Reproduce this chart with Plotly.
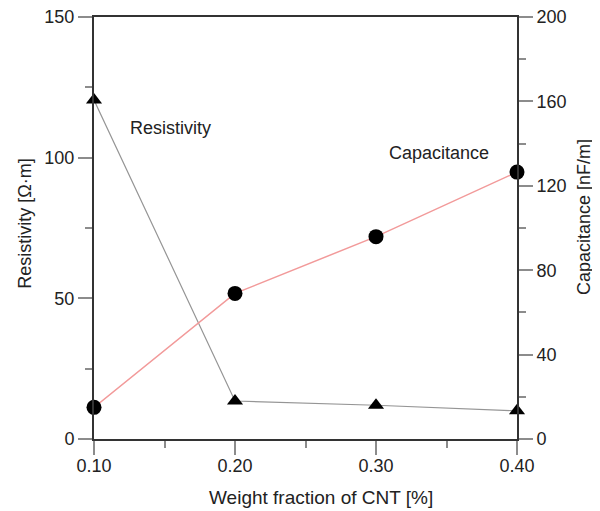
import plotly.graph_objects as go

weight_fraction = [0.10, 0.20, 0.30, 0.40]
resistivity = [120.5, 13.5, 12.0, 10.0]
capacitance = [15.0, 69.0, 95.9, 126.5]

x_ticks = [0.10, 0.20, 0.30, 0.40]
x_tick_labels = ["0.10", "0.20", "0.30", "0.40"]
left_ticks = [0, 50, 100, 150]
right_ticks = [0, 40, 80, 120, 160, 200]

FONT = "Liberation Sans, Arial, Helvetica, sans-serif"
AXIS_COLOR = "#333333"
TICK_COLOR = "#8c8c8c"
FS = 18

fig = go.Figure()
fig.add_trace(go.Scatter(
    x=weight_fraction, y=resistivity, mode="lines+markers",
    line=dict(color="#959595", width=1.2),
    marker=dict(symbol="triangle-up", size=14, color="black"),
    cliponaxis=False, yaxis="y", showlegend=False))
fig.add_trace(go.Scatter(
    x=weight_fraction, y=capacitance, mode="lines+markers",
    line=dict(color="#f29a9a", width=1.5),
    marker=dict(symbol="circle", size=15, color="black"),
    cliponaxis=False, yaxis="y2", showlegend=False))

common = dict(showgrid=False, zeroline=False, showline=True, linecolor=AXIS_COLOR,
              linewidth=2, ticks="outside", ticklen=14, tickwidth=2, automargin=False,
              ticklabeloverflow="allow",
              tickcolor=TICK_COLOR, tickfont=dict(family=FONT, size=FS, color="#222"))
minor_common = dict(ticklen=7, tickcolor=TICK_COLOR, tickwidth=2, ticks="outside")

fig.update_layout(
    width=600, height=511,
    margin=dict(l=86, r=91, t=9, b=80, autoexpand=False),
    paper_bgcolor="white", plot_bgcolor="white",
    font=dict(family=FONT, size=FS, color="#222"),
    xaxis=dict(range=[0.10, 0.40], tickvals=x_ticks, ticktext=x_tick_labels,
               mirror=True, ticklabelstandoff=-5,
               minor=dict(dtick=0.05, **minor_common), **common),
    yaxis=dict(range=[0, 150], tickvals=left_ticks,
               minor=dict(dtick=25, **minor_common), **common),
    yaxis2=dict(range=[0, 200], tickvals=right_ticks, overlaying="y", side="right",
                minor=dict(dtick=20, **minor_common), **common),
    annotations=[
        dict(text="Resistivity", xref="paper", yref="paper", x=0.182, y=0.737,
             xanchor="center", yanchor="middle", showarrow=False, font=dict(size=FS)),
        dict(text="Capacitance", xref="paper", yref="paper", x=0.816, y=0.678,
             xanchor="center", yanchor="middle", showarrow=False, font=dict(size=FS)),
        dict(text="Weight fraction of CNT [%]", xref="paper", yref="paper",
             x=0.537, y=0, yshift=-58, xanchor="center", yanchor="middle",
             showarrow=False, font=dict(size=19)),
        dict(text="Resistivity [Ω·m]", xref="paper", yref="paper",
             x=0, xshift=-69, y=0.51, textangle=-90, xanchor="center", yanchor="middle",
             showarrow=False, font=dict(size=FS)),
        dict(text="Capacitance [nF/m]", xref="paper", yref="paper",
             x=1, xshift=67, y=0.526, textangle=-90, xanchor="center", yanchor="middle",
             showarrow=False, font=dict(size=FS)),
    ],
)

fig.write_html("out.html")
